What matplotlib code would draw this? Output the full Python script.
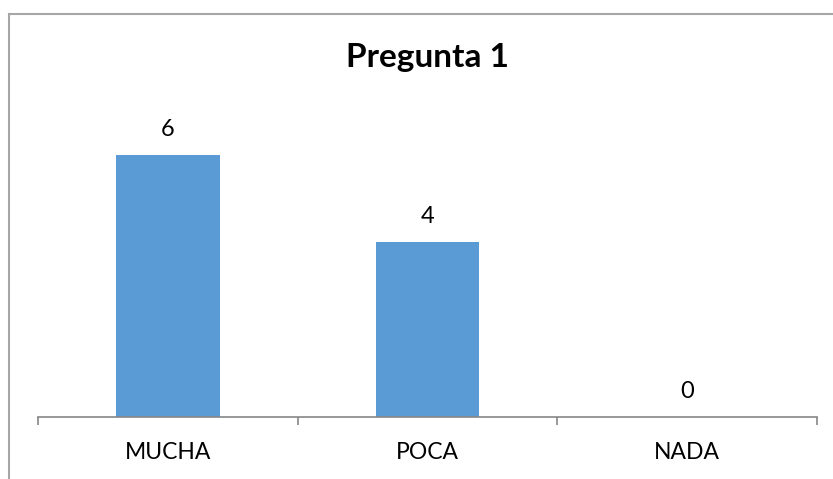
import matplotlib.pyplot as plt
from matplotlib.patches import Rectangle

# datos
categorias = ["MUCHA", "POCA", "NADA"]
valores = [6, 4, 0]

W, H = 833, 479
fig = plt.figure(figsize=(W / 100, H / 100), dpi=100)
plt.rcParams["font.family"] = ["Lato", "DejaVu Sans"]

# marco del gráfico (sólo se ven el borde superior e izquierdo)
fig.patches.append(Rectangle((8.5 / W, -0.2), 1.2, (H - 13.5) / H + 0.2,
                             transform=fig.transFigure, fill=False,
                             edgecolor="#a6a6a6", linewidth=1.5))

ax = fig.add_axes([38 / W, (H - 417) / H, 779 / W, 306 / H])
x = range(len(categorias))
bars = ax.bar(x, valores, width=0.4, color="#5b9bd5")
ax.set_xlim(-0.5, 2.5)
ax.set_ylim(0, 7)

for b, v in zip(bars, valores):
    ax.annotate(f"{v}", (b.get_x() + b.get_width() / 2, v),
                xytext=(0, 18.5), textcoords="offset points",
                ha="center", va="center", fontsize=17, color="#000000")

for s in ["top", "right", "left"]:
    ax.spines[s].set_visible(False)
ax.spines["bottom"].set_color("#868686")
ax.spines["bottom"].set_linewidth(1.2)
ax.set_yticks([])
ax.set_xticks([-0.5, 0.5, 1.5, 2.5])
ax.set_xticklabels([])
ax.tick_params(axis="x", length=6, width=1.2, color="#868686", direction="out")
for i, c in enumerate(categorias):
    ax.annotate(c, (i, 0), xytext=(0, -25.5), textcoords="offset points",
                ha="center", va="center", fontsize=16.5, annotation_clip=False)

fig.text(428 / W, 1 - 58 / H, "Pregunta 1", ha="center", va="center",
         fontsize=24, fontweight="bold")

fig.savefig("out.png", dpi=100)
